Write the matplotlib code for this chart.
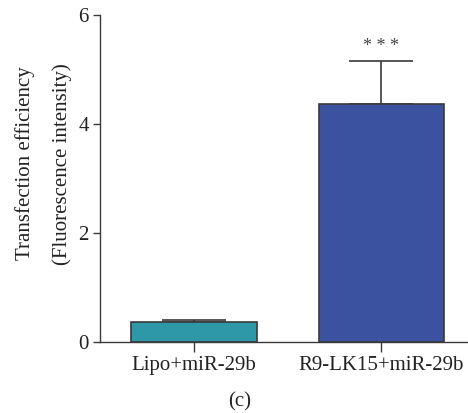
import numpy as np
import matplotlib.pyplot as plt

plt.rcParams['font.family'] = ['Liberation Serif', 'DejaVu Serif']

groups = ['Lipo+miR-29b', 'R9-LK15+miR-29b']
means = [0.37, 4.36]
errs = [0.03, 0.80]
bar_colors = ['#2E97A8', '#3A52A0']
edge = '#3a3a3a'

fig = plt.figure(figsize=(4.68, 4.13), dpi=100)
ax = fig.add_axes([100/468, 1-341.7/413, 367/468, (341.7-15)/413])

x = np.arange(len(groups))
ax.bar(x, means, width=0.667, color=bar_colors, edgecolor=edge, linewidth=1.2, zorder=2)
ax.errorbar(x, means, yerr=[np.zeros(len(errs)), errs], fmt='none', ecolor=edge,
            elinewidth=1.2, capsize=22.7, capthick=1.2, zorder=1)
ax.text(x[1], means[1] + errs[1] + 0.1, '* * *', ha='center', va='bottom',
        fontsize=13, color='#444444')

ax.set_xlim(-0.5013, 1.456)
ax.set_ylim(0, 6)
ax.set_yticks([0, 2, 4, 6])
ax.set_xticks(x)
ax.set_xticklabels(groups, fontsize=15, color='#222222')
ax.tick_params(axis='y', labelsize=15, length=5, width=1, color=edge, labelcolor='#222222', pad=3)
ax.tick_params(axis='x', length=7, width=1, color=edge, pad=3)
for s in ['top', 'right']:
    ax.spines[s].set_visible(False)
for s in ['left', 'bottom']:
    ax.spines[s].set_color(edge)
    ax.spines[s].set_linewidth(1)

fig.text(25/468, 1-163/413, 'Transfection efficiency', rotation=90, ha='center', va='center',
         fontsize=15, color='#222222')
fig.text(62/468, 1-164/413, '(Fluorescence intensity)', rotation=90, ha='center', va='center',
         fontsize=15, color='#222222')
fig.text(240/468, 1-402/413, '(c)', ha='center', va='center', fontsize=15, color='#222222')

fig.savefig('out.png', dpi=100)
